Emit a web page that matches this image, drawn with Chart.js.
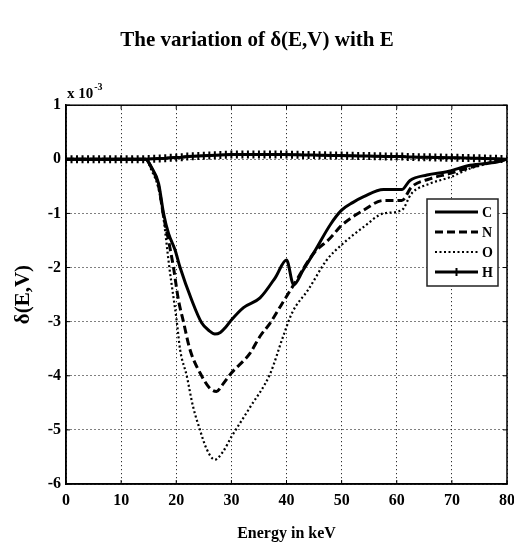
<!DOCTYPE html>
<html>
<head>
<meta charset="utf-8">
<script src="https://cdn.jsdelivr.net/npm/chart.js@4/dist/chart.umd.min.js"></script>
<style>
  html, body { margin: 0; padding: 0; background: #fff; }
  #wrap { width: 514px; height: 543px; }
</style>
</head>
<body>
<div id="wrap"><canvas id="myChart" width="514" height="543"></canvas></div>
<script>
'use strict';

// values are in units of 1e-3 (axis says "x 10^-3")
const xTicks = [0, 10, 20, 30, 40, 50, 60, 70, 80];
const yTicks = [-6, -5, -4, -3, -2, -1, 0, 1];

const cEnergy = [0, 5, 10, 14.4, 15.5, 16.8, 17.7, 18.6, 19.8, 20.7, 22.8, 24.6, 26, 27, 28, 29, 30, 32.2, 35.2, 38, 40, 41.3, 43, 45, 48, 50, 52, 54, 57.6, 60.9, 62.4, 65.5, 69.1, 73.3, 78.2, 80];
const cDelta = [0, 0, 0, 0, -0.15, -0.45, -1.0, -1.37, -1.68, -2.0, -2.6, -3.02, -3.17, -3.23, -3.2, -3.1, -2.97, -2.74, -2.56, -2.18, -1.86, -2.32, -2.05, -1.72, -1.2, -0.94, -0.8, -0.69, -0.56, -0.56, -0.39, -0.29, -0.23, -0.11, -0.05, 0];

const nEnergy = [0, 5, 10, 14.4, 15.5, 16.8, 17.7, 18.6, 19.5, 20.4, 21.3, 22.5, 24.6, 26, 27.3, 28.5, 30, 33.4, 35.2, 37, 39, 41.3, 44.9, 47.9, 50, 54, 57.6, 60.9, 62.7, 66, 69.7, 73.3, 77, 80];
const nDelta = [0, 0, 0, 0, -0.15, -0.5, -1.05, -1.5, -2.0, -2.6, -3.0, -3.52, -4.0, -4.22, -4.29, -4.15, -3.95, -3.58, -3.27, -3.03, -2.7, -2.32, -1.74, -1.46, -1.22, -0.94, -0.76, -0.76, -0.51, -0.36, -0.26, -0.15, -0.06, 0];

const oEnergy = [0, 5, 10, 14.4, 15.5, 16.8, 17.7, 18.75, 20.1, 20.7, 21.9, 23, 24.3, 25.5, 27, 28.5, 30, 33.4, 37, 39.4, 41, 44, 47.3, 50, 54, 57.6, 60.9, 62.7, 66, 69.7, 73.3, 77, 80];
const oDelta = [0, 0, 0, 0, -0.2, -0.55, -1.1, -2.0, -3.0, -3.52, -4.0, -4.55, -5.0, -5.35, -5.55, -5.4, -5.13, -4.58, -3.97, -3.27, -2.84, -2.4, -1.86, -1.58, -1.25, -1.0, -0.94, -0.63, -0.45, -0.33, -0.17, -0.07, 0];

const hEnergy = [0, 1, 2, 3, 4, 5, 6, 7, 8, 9, 10, 11, 12, 13, 14, 15, 16, 17, 18, 19, 20, 21, 22, 23, 24, 25, 26, 27, 28, 29, 30, 31, 32, 33, 34, 35, 36, 37, 38, 39, 40, 41, 42, 43, 44, 45, 46, 47, 48, 49, 50, 51, 52, 53, 54, 55, 56, 57, 58, 59, 60, 61, 62, 63, 64, 65, 66, 67, 68, 69, 70, 71, 72, 73, 74, 75, 76, 77, 78, 79, 80];
const hDelta = [0, 0, 0, 0, 0, 0, 0, 0, 0, 0, 0, 0, 0, 0, 0, 0.005, 0.01, 0.015, 0.02, 0.03, 0.035, 0.04, 0.05, 0.055, 0.06, 0.065, 0.07, 0.075, 0.08, 0.085, 0.09, 0.09, 0.09, 0.09, 0.09, 0.09, 0.09, 0.09, 0.09, 0.09, 0.09, 0.085, 0.085, 0.08, 0.08, 0.08, 0.075, 0.075, 0.07, 0.07, 0.07, 0.065, 0.065, 0.06, 0.06, 0.06, 0.055, 0.055, 0.05, 0.05, 0.05, 0.05, 0.045, 0.045, 0.04, 0.04, 0.04, 0.035, 0.035, 0.03, 0.03, 0.03, 0.025, 0.025, 0.02, 0.02, 0.015, 0.01, 0.01, 0.005, 0];

const serif = "'Liberation Serif', 'Times New Roman', serif";

function pairs(xs, ys) {
  return xs.map((x, i) => ({x: x, y: ys[i]}));
}

// box round the plot, inward ticks, the "x 10^-3" note and the legend box
const extras = {
  id: 'extras',
  afterDraw(chart) {
    const ctx = chart.ctx;
    const a = chart.chartArea;
    const xs = chart.scales.x;
    const ys = chart.scales.y;
    ctx.save();
    ctx.strokeStyle = '#000';
    ctx.lineWidth = 1.5;
    ctx.setLineDash([]);
    ctx.strokeRect(a.left, a.top, a.right - a.left, a.bottom - a.top);
    ctx.lineWidth = 1;
    ctx.beginPath();
    xTicks.forEach(v => {
      const px = xs.getPixelForValue(v);
      ctx.moveTo(px, a.bottom); ctx.lineTo(px, a.bottom - 4);
      ctx.moveTo(px, a.top); ctx.lineTo(px, a.top + 4);
    });
    yTicks.forEach(v => {
      const py = ys.getPixelForValue(v);
      ctx.moveTo(a.left, py); ctx.lineTo(a.left + 4, py);
      ctx.moveTo(a.right, py); ctx.lineTo(a.right - 4, py);
    });
    ctx.stroke();

    ctx.fillStyle = '#000';
    ctx.textBaseline = 'alphabetic';
    ctx.textAlign = 'left';
    ctx.font = 'bold 15px ' + serif;
    ctx.fillText('x 10', a.left + 1, a.top - 7);
    const w = ctx.measureText('x 10').width;
    ctx.font = 'bold 10px ' + serif;
    ctx.fillText('-3', a.left + 2 + w, a.top - 15);

    // legend
    const lx = 427, ly = 199, lw = 71, lh = 87;
    ctx.fillStyle = '#fff';
    ctx.fillRect(lx, ly, lw, lh);
    ctx.strokeStyle = '#222';
    ctx.lineWidth = 1.5;
    ctx.strokeRect(lx, ly, lw, lh);
    chart.data.datasets.forEach((ds, i) => {
      const y = ly + 13 + i * 20;
      ctx.strokeStyle = '#000';
      ctx.lineWidth = ds.borderWidth;
      ctx.setLineDash(ds.borderDash || []);
      ctx.beginPath();
      ctx.moveTo(435, y);
      ctx.lineTo(478, y);
      ctx.stroke();
      ctx.setLineDash([]);
      if (ds.pointStyle === 'cross') {
        ctx.lineWidth = 2;
        ctx.beginPath();
        ctx.moveTo(456.5, y - 4); ctx.lineTo(456.5, y + 4);
        ctx.stroke();
      }
      ctx.fillStyle = '#000';
      ctx.font = 'bold 14px ' + serif;
      ctx.textAlign = 'left';
      ctx.textBaseline = 'middle';
      ctx.fillText(ds.label, 482, y + 1);
    });
    ctx.restore();
  }
};

const progressChart = document.getElementById('myChart');

function drawChart() {
  return new Chart(progressChart, {
    type: 'line',
    data: {
      datasets: [{
        label: 'C',
        data: pairs(cEnergy, cDelta),
        borderColor: '#000',
        borderWidth: 3,
        pointRadius: 0,
        cubicInterpolationMode: 'monotone'
      }, {
        label: 'N',
        data: pairs(nEnergy, nDelta),
        borderColor: '#000',
        borderWidth: 3,
        borderDash: [8, 4],
        pointRadius: 0,
        cubicInterpolationMode: 'monotone'
      }, {
        label: 'O',
        data: pairs(oEnergy, oDelta),
        borderColor: '#000',
        borderWidth: 2.2,
        borderDash: [2, 2.5],
        pointRadius: 0,
        cubicInterpolationMode: 'monotone'
      }, {
        label: 'H',
        data: pairs(hEnergy, hDelta),
        borderColor: '#000',
        borderWidth: 3,
        pointStyle: 'cross',
        pointRadius: 4,
        pointBorderWidth: 2,
        pointBorderColor: '#000'
      }]
    },
    options: {
      responsive: false,
      animation: false,
      layout: { padding: { left: 0, right: 0, top: 0, bottom: 0 } },
      plugins: {
        legend: { display: false },
        tooltip: { enabled: false },
        title: {
          display: true,
          text: 'The variation of δ(E,V) with E',
          color: '#000',
          font: { family: serif, size: 21, weight: 'bold' },
          padding: { top: 28, bottom: 52 }
        }
      },
      scales: {
        x: {
          type: 'linear',
          min: 0,
          max: 80,
          afterBuildTicks: s => { s.ticks = xTicks.map(v => ({value: v})); },
          afterFit: s => { s.height = 59; s.paddingRight = 7; s.paddingLeft = 0; },
          grid: { color: '#000', lineWidth: 1, drawTicks: false },
          border: { display: true, color: '#000', width: 1.5, dash: [1, 3] },
          ticks: {
            color: '#000',
            padding: 7,
            font: { family: serif, size: 16, weight: 'bold' }
          },
          title: {
            display: true,
            text: 'Energy in keV',
            color: '#000',
            font: { family: serif, size: 16, weight: 'bold' },
            padding: { top: 0, bottom: 0 }
          }
        },
        y: {
          type: 'linear',
          min: -6,
          max: 1,
          afterBuildTicks: s => { s.ticks = yTicks.map(v => ({value: v})); },
          afterFit: s => { s.width = 66; },
          grid: { color: '#000', lineWidth: 1, drawTicks: false },
          border: { display: true, color: '#000', width: 1.5, dash: [1, 3] },
          ticks: {
            color: '#000',
            padding: 5,
            font: { family: serif, size: 16, weight: 'bold' }
          },
          title: {
            display: true,
            text: 'δ(E,V)',
            color: '#000',
            font: { family: serif, size: 21, weight: 'bold' },
            padding: { top: 11, bottom: 0 }
          }
        }
      }
    },
    plugins: [extras]
  });
}

drawChart();
</script>
</body>
</html>
